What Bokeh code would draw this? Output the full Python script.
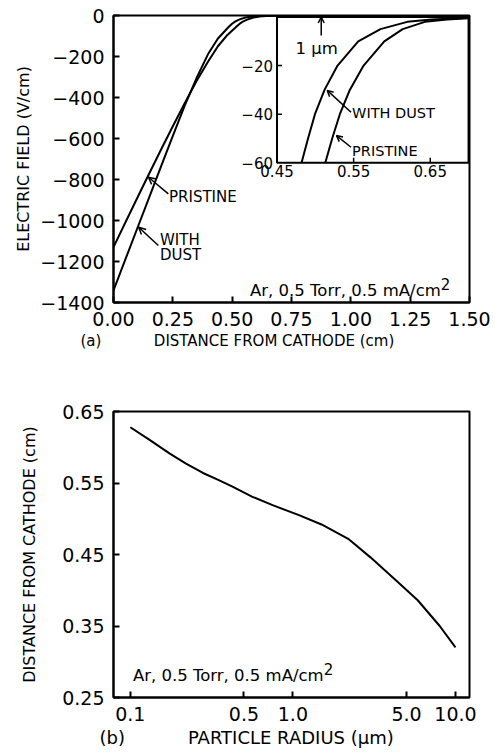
import numpy as np
from bokeh.plotting import figure
from bokeh.layouts import column
from bokeh.models import (Range1d, FixedTicker, CustomJSTickFormatter, Label, Arrow,
                          OpenHead, CoordinateMapping, Title)
from bokeh.core.properties import value
from bokeh.embed import file_html
from bokeh.resources import INLINE

# ---------------- data ----------------
# (a) electric field vs distance from cathode
pristine_x = [0.0, 0.05, 0.10, 0.15, 0.20, 0.25, 0.30, 0.35, 0.40, 0.44, 0.48,
              0.513, 0.522, 0.532, 0.545, 0.563, 0.590, 0.614, 0.643, 0.672, 0.70,
              0.80, 1.00, 1.25, 1.50]
pristine_e = [-1130, -1010, -890, -772, -655, -540, -428, -320, -222, -150, -95,
              -60, -50, -40, -30, -20, -10, -5, -2, -1, -0.5,
              0, 0, 0, 0]
dust_x = [0.0, 0.05, 0.10, 0.15, 0.20, 0.25, 0.30, 0.35, 0.40, 0.44,
          0.482, 0.4905, 0.4995, 0.512, 0.529, 0.556, 0.585, 0.620, 0.652, 0.70,
          0.80, 1.00, 1.25, 1.50]
dust_e = [-1341, -1190, -1039, -888, -737, -587, -440, -305, -185, -112,
          -60, -50, -40, -30, -20, -10, -5, -2, -1, -0.3,
          0, 0, 0, 0]

# (b) sheath edge position vs particle radius
radius_um = [0.1, 0.13, 0.175, 0.22, 0.28, 0.35, 0.425, 0.56, 0.75, 1.09, 1.5,
             2.19, 3.0, 4.3, 5.86, 8.0, 10.0]
distance_cm = [0.628, 0.611, 0.591, 0.577, 0.564, 0.554, 0.545, 0.531, 0.519, 0.505, 0.492,
               0.472, 0.446, 0.414, 0.386, 0.350, 0.320]

field_xticks = [0.0, 0.25, 0.5, 0.75, 1.0, 1.25, 1.5]
field_yticks = [0, -200, -400, -600, -800, -1000, -1200, -1400]
inset_xticks = [0.45, 0.55, 0.65]
inset_yticks = [-20, -40, -60]
radius_ticks = [0.1, 0.5, 1.0, 5.0, 10.0]
distance_ticks = [0.25, 0.35, 0.45, 0.55, 0.65]

FONT = "DejaVu Sans"
NB = "\u00a0"


def style_axis(ax):
    ax.major_label_text_font = FONT
    ax.major_label_text_font_size = "19px"
    ax.major_label_text_color = "black"
    ax.axis_line_color = "black"
    ax.axis_line_width = 2
    ax.major_tick_in = 6
    ax.major_tick_out = 0
    ax.major_tick_line_width = 2
    ax.major_tick_line_color = "black"
    ax.minor_tick_in = 0
    ax.minor_tick_out = 0
    ax.major_label_standoff = 9
    ax.axis_label_text_font = FONT
    ax.axis_label_text_font_style = "normal"
    ax.axis_label_text_font_size = "16px"
    ax.axis_label_text_color = "black"
    ax.axis_label_standoff = 4


def lbl(**kw):
    d = dict(text_font=FONT, text_font_size="15px", text_color="black")
    d.update(kw)
    return Label(**d)


def bottom_title(text, offset, size):
    return Title(text=text, align="left", offset=offset, standoff=2,
                 text_font=FONT, text_font_size=size, text_font_style="normal",
                 text_color="black")


# ---------------- (a) ----------------
p1 = figure(width=495, height=370, x_range=Range1d(0, 1.5), y_range=Range1d(-1400, 0),
            output_backend="svg", toolbar_location=None,
            min_border_left=113, min_border_right=23, min_border_top=15, min_border_bottom=68)
p1.xgrid.visible = False
p1.ygrid.visible = False
p1.outline_line_color = "black"
p1.outline_line_width = 2
p1.outline_line_alpha = 1
for ax in (p1.xaxis[0], p1.yaxis[0]):
    style_axis(ax)
p1.xaxis.ticker = FixedTicker(ticks=field_xticks, minor_ticks=[])
p1.yaxis.ticker = FixedTicker(ticks=field_yticks, minor_ticks=[])
p1.xaxis.formatter = CustomJSTickFormatter(code="return tick.toFixed(2);")
p1.yaxis.formatter = CustomJSTickFormatter(
    code="return tick < 0 ? '\u2212' + Math.abs(tick).toFixed(0) : tick.toFixed(0);")
p1.yaxis.axis_label = "ELECTRIC FIELD (V/cm)"
p1.add_layout(bottom_title("(a)" + NB * 11 + "DISTANCE FROM CATHODE (cm)", -33, "15px"),
              "below")

p1.line(pristine_x, pristine_e, line_width=2, color="black")
p1.line(dust_x, dust_e, line_width=2, color="black")

# annotations in main panel
p1.add_layout(Arrow(end=OpenHead(size=7, line_width=1.5, line_color="black"),
                    x_start=0.231, y_start=-870, x_end=0.1475, y_end=-789,
                    line_width=1.5, line_color="black"))
p1.add_layout(lbl(x=0.234, y=-883, text="PRISTINE", text_baseline="middle"))
p1.add_layout(Arrow(end=OpenHead(size=7, line_width=1.5, line_color="black"),
                    x_start=0.189, y_start=-1122, x_end=0.106, y_end=-1033,
                    line_width=1.5, line_color="black"))
p1.add_layout(lbl(x=0.196, y=-1093, text="WITH", text_baseline="middle"))
p1.add_layout(lbl(x=0.196, y=-1166, text="DUST", text_baseline="middle"))

p1.add_layout(lbl(x=1.379, y=-1341, text="Ar, 0.5 Torr, 0.5 mA/cm", text_align="right",
                  text_baseline="alphabetic", text_font_size="16.5px"))
p1.add_layout(lbl(x=1.379, y=-1341, y_offset=6, text="2", text_align="left",
                  text_baseline="alphabetic", text_font_size="15px"))

# ---------------- inset ----------------
cm = CoordinateMapping(x_source=Range1d(0.45, 0.70), y_source=Range1d(-60, 0),
                       x_target=Range1d(0.689, 1.496), y_target=Range1d(-718.5, -7.3))

r = p1.quad(left=[0.45], right=[0.70], bottom=[-60], top=[0], fill_color="white",
            line_color="black", line_width=2)
r.coordinates = cm

for xs, es in ((pristine_x, pristine_e), (dust_x, dust_e)):
    ix = [x for x, e in zip(xs, es) if x <= 0.70 and e >= -60]
    ie = [e for x, e in zip(xs, es) if x <= 0.70 and e >= -60]
    r = p1.line(ix, ie, line_width=2, color="black")
    r.coordinates = cm

r = p1.ray(x=inset_xticks[1:], y=[-60] * 2, length=5, angle=np.pi / 2,
           length_units="screen", line_width=1.5, color="black")
r.coordinates = cm
r = p1.ray(x=[0.45] * 2, y=inset_yticks[:2], length=5, angle=0,
           length_units="screen", line_width=1.5, color="black")
r.coordinates = cm

r = p1.text(x=inset_xticks, y=[-60] * 3, text=["%.2f" % t for t in inset_xticks],
            text_align="center", text_baseline="top", y_offset=2,
            text_font=value(FONT), text_font_size="15px", text_color="black")
r.coordinates = cm
r = p1.text(x=[0.45] * 3, y=inset_yticks, text=["\u2212%d" % abs(t) for t in inset_yticks],
            text_align="right", text_baseline="middle", x_offset=-4,
            text_font=value(FONT), text_font_size="15px", text_color="black")
r.coordinates = cm

r = p1.text(x=[0.548, 0.548], y=[-39.4, -55.0], text=["WITH DUST", "PRISTINE"],
            text_align="left", text_baseline="middle",
            text_font=value(FONT), text_font_size="14.5px", text_color="black")
r.coordinates = cm
r = p1.text(x=[0.474], y=[-13.0], text=["1 \u03bcm"],
            text_align="left", text_baseline="alphabetic",
            text_font=value(FONT), text_font_size="16.5px", text_color="black")
r.coordinates = cm

for (xs, ys, xe, ye) in ((0.5466, -39.2, 0.5155, -30.2),
                         (0.5466, -53.6, 0.5276, -48.8),
                         (0.5077, -7.6, 0.5077, 0.0)):
    a = Arrow(end=OpenHead(size=6, line_width=1.5, line_color="black"),
              x_start=xs, y_start=ys, x_end=xe, y_end=ye,
              line_width=1.5, line_color="black")
    a.coordinates = cm
    p1.add_layout(a)

# ---------------- (b) ----------------
p2 = figure(width=495, height=385, x_axis_type="log", x_range=Range1d(0.0788, 12.2),
            y_range=Range1d(0.25, 0.65), output_backend="svg", toolbar_location=None,
            min_border_left=110, min_border_right=26, min_border_top=41, min_border_bottom=58)
p2.xgrid.visible = False
p2.ygrid.visible = False
p2.outline_line_color = "black"
p2.outline_line_width = 2
p2.outline_line_alpha = 1
for ax in (p2.xaxis[0], p2.yaxis[0]):
    style_axis(ax)
p2.xaxis.ticker = FixedTicker(ticks=radius_ticks, minor_ticks=[])
p2.yaxis.ticker = FixedTicker(ticks=distance_ticks, minor_ticks=[])
p2.xaxis.formatter = CustomJSTickFormatter(code="return tick.toFixed(1);")
p2.yaxis.formatter = CustomJSTickFormatter(code="return tick.toFixed(2);")
p2.yaxis.axis_label = "DISTANCE FROM CATHODE (cm)"
p2.yaxis.axis_label_standoff = 20
p2.add_layout(bottom_title("(b)" + NB * 11 + "PARTICLE RADIUS (\u03bcm)", -14, "18px"),
              "below")

p2.line(radius_um, distance_cm, line_width=2, color="black")

p2.add_layout(lbl(x=1.546, y=0.2808, text="Ar, 0.5 Torr, 0.5 mA/cm", text_align="right",
                  text_baseline="alphabetic", text_font_size="16.5px"))
p2.add_layout(lbl(x=1.546, y=0.2808, y_offset=6, text="2", text_align="left",
                  text_baseline="alphabetic", text_font_size="15px"))

layout = column(p1, p2)
open("out.html", "w").write(file_html(layout, INLINE))
